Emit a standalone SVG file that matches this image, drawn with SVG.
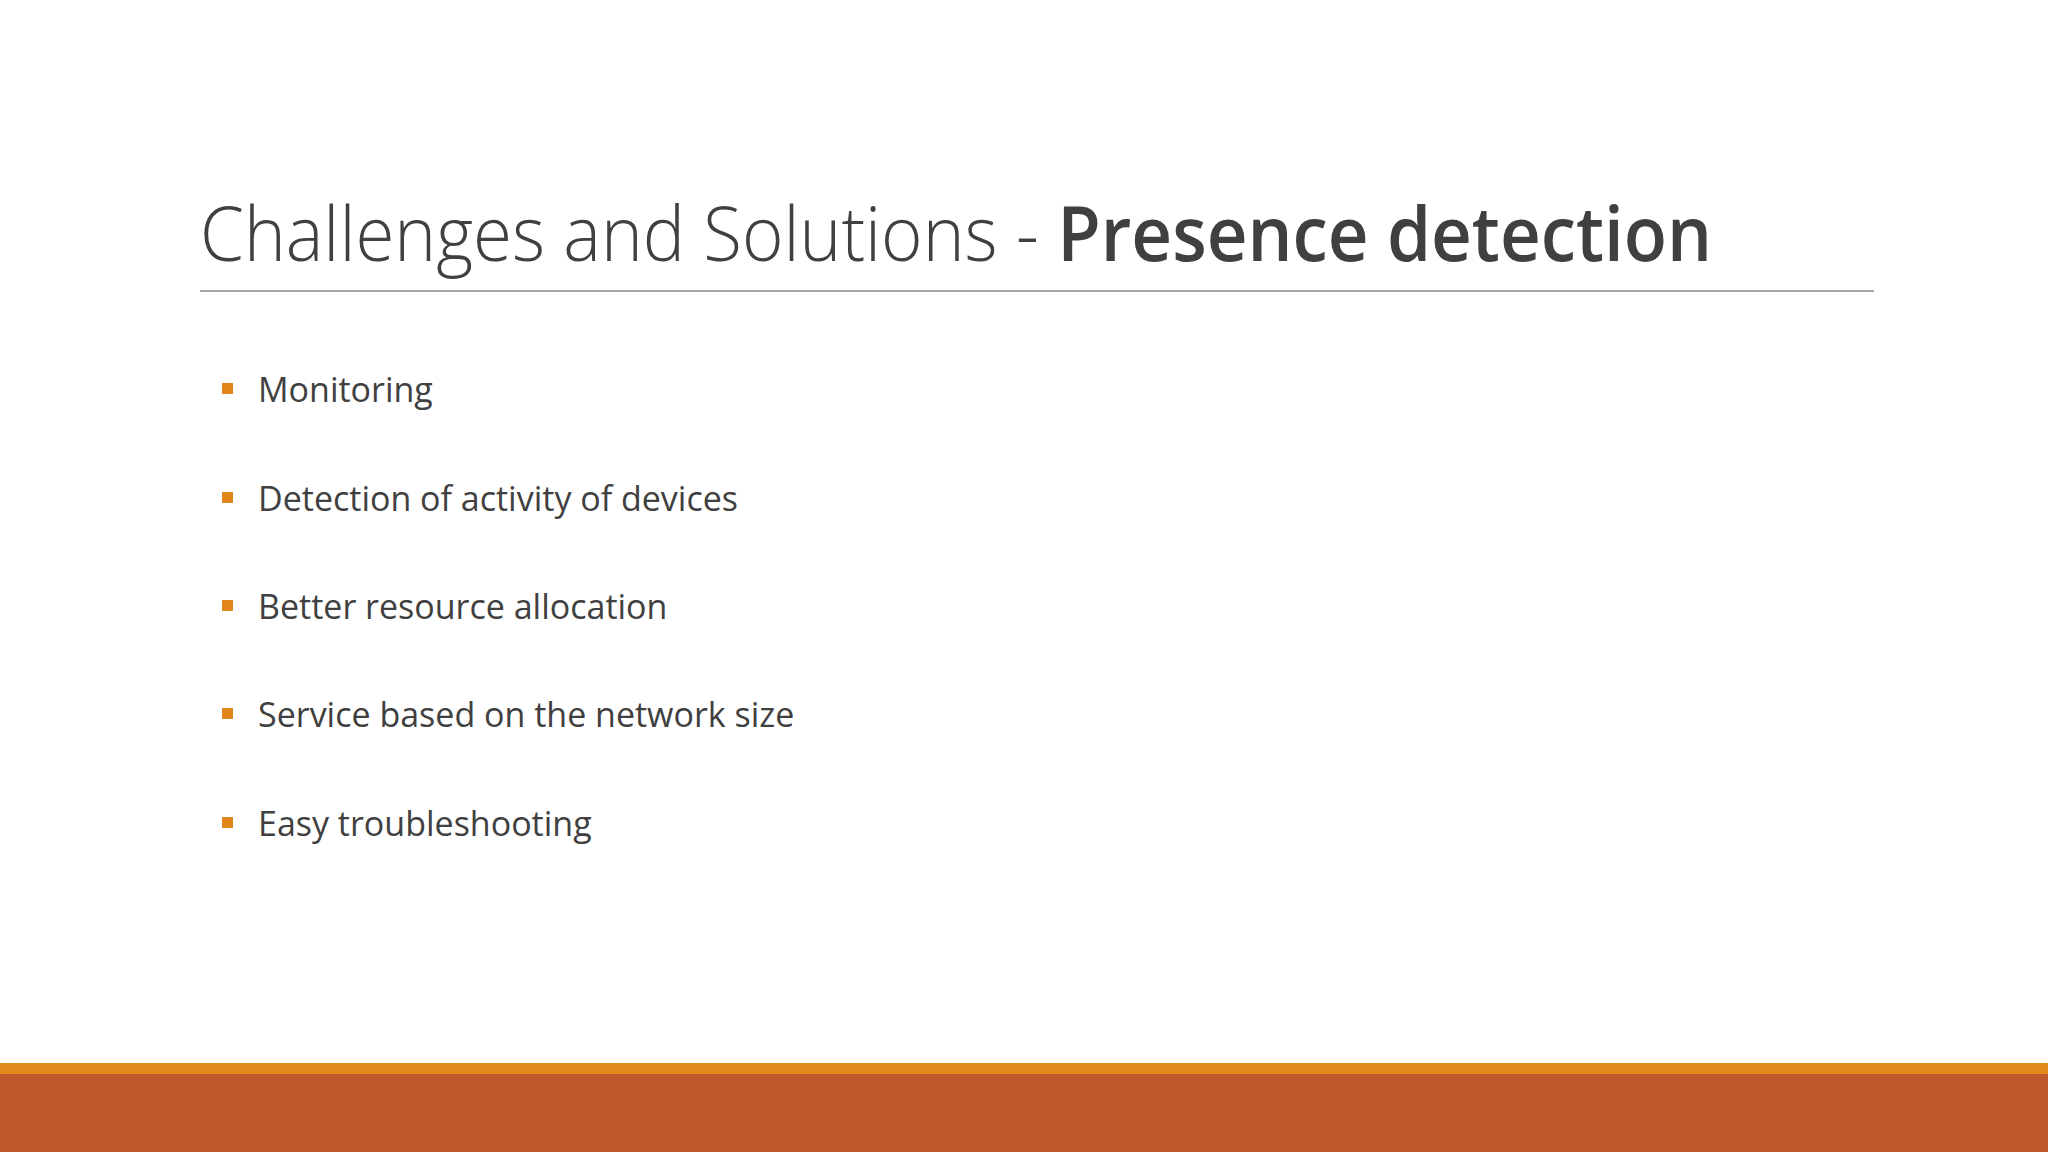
<svg xmlns="http://www.w3.org/2000/svg" width="2048" height="1152" viewBox="0 0 2048 1152">
<style>
.t{font-family:"Open Sans","Liberation Sans",sans-serif;fill:#404040}
.b{font-size:34px}
.sq{fill:#E0861A}
</style>
<rect width="2048" height="1152" fill="#ffffff"/>
<g id="title">
<text class="t" x="200" y="261" font-size="76" textLength="1512" lengthAdjust="spacingAndGlyphs"><tspan font-weight="300">Challenges and Solutions - </tspan><tspan font-weight="600">Presence detection</tspan></text>
<line x1="200" y1="291" x2="1874" y2="291" stroke="#A6A6A6" stroke-width="2"/>
</g>
<g id="bullets">
<rect class="sq" x="222" y="383" width="11" height="11"/>
<text class="t b" x="258" y="402">Monitoring</text>
<rect class="sq" x="222" y="492" width="11" height="11"/>
<text class="t b" x="258" y="511">Detection of activity of devices</text>
<rect class="sq" x="222" y="600" width="11" height="11"/>
<text class="t b" x="258" y="619">Better resource allocation</text>
<rect class="sq" x="222" y="708" width="11" height="11"/>
<text class="t b" x="258" y="727">Service based on the network size</text>
<rect class="sq" x="222" y="817" width="11" height="11"/>
<text class="t b" x="258" y="836">Easy troubleshooting</text>
</g>
<g id="footer">
<rect x="0" y="1063" width="2048" height="11" fill="#E08A1A"/>
<rect x="0" y="1074" width="2048" height="78" fill="#BE582C"/>
</g>
</svg>
